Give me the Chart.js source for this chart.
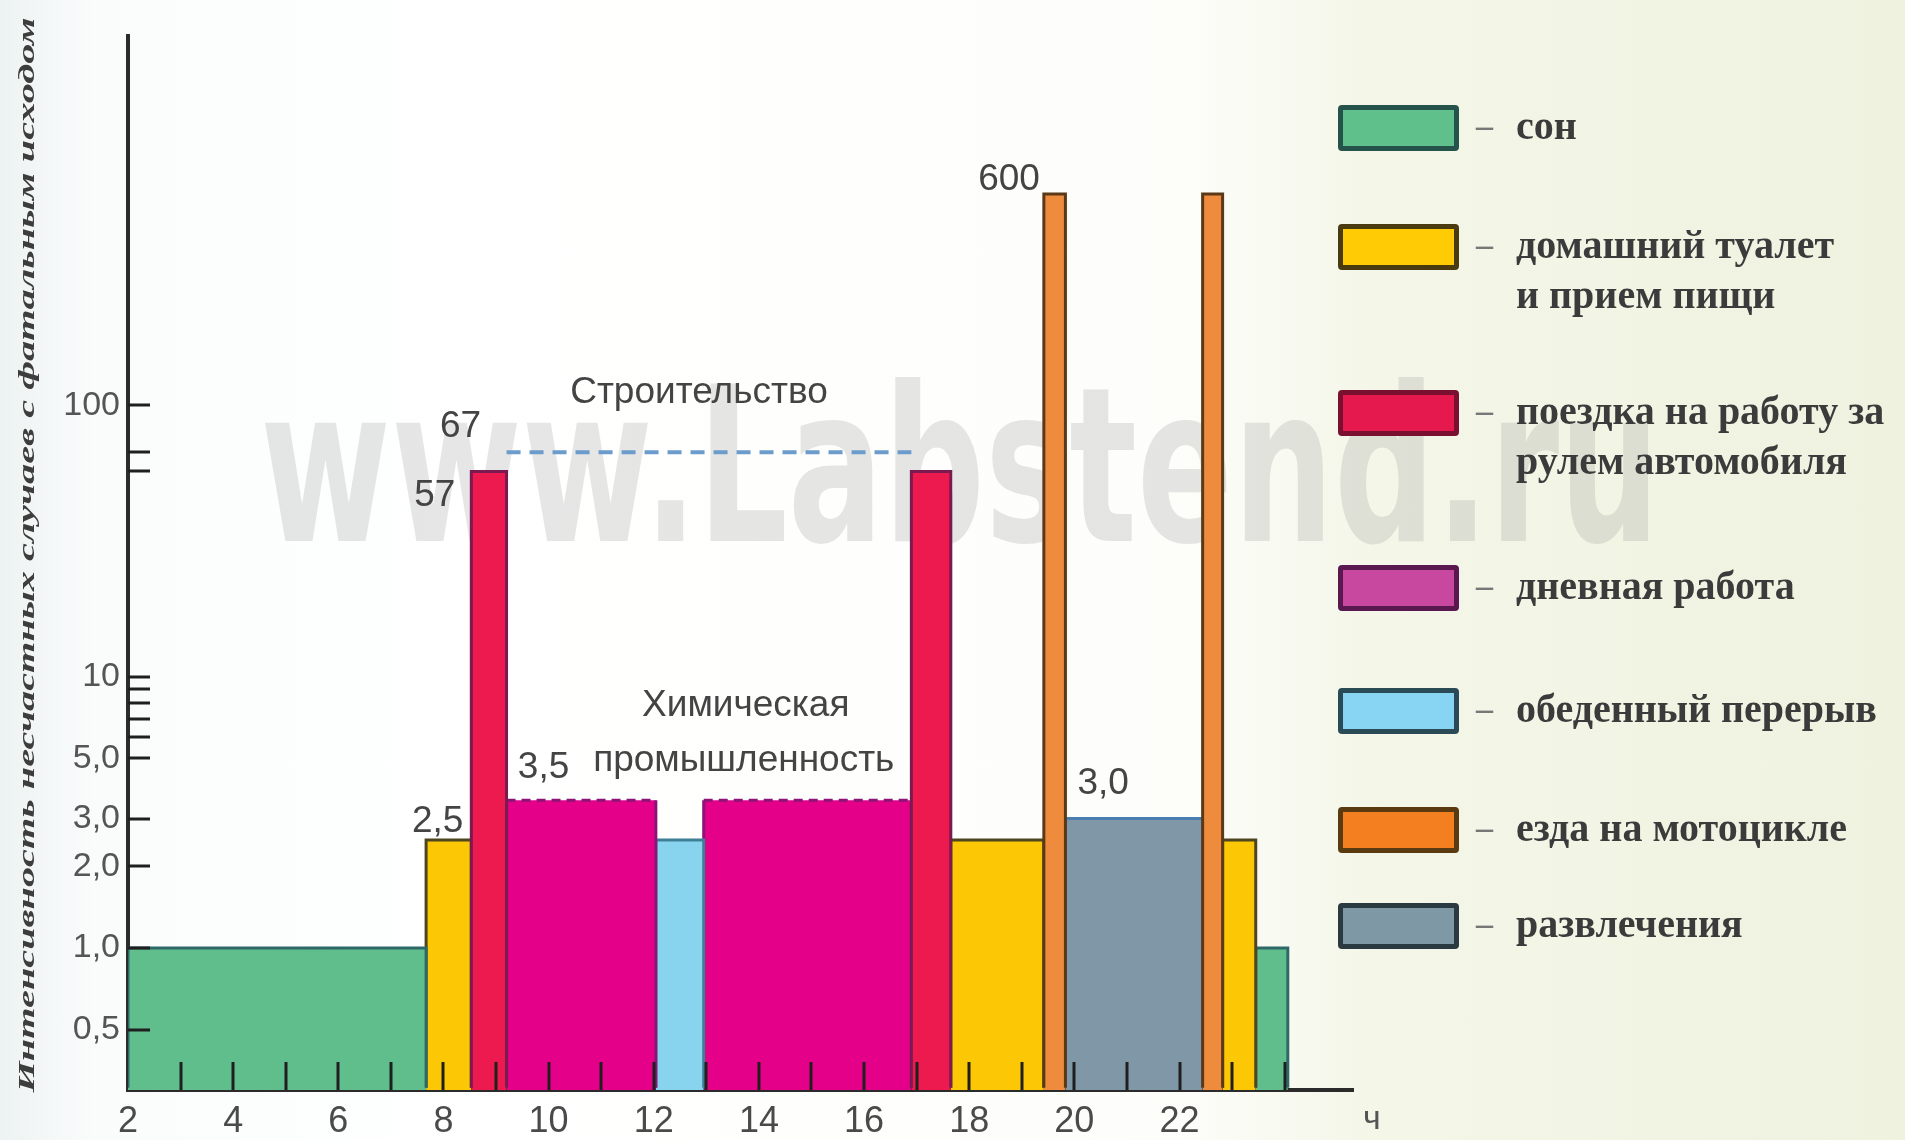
<!DOCTYPE html>
<html lang="ru">
<head>
<meta charset="utf-8">
<title>Интенсивность несчастных случаев с фатальным исходом</title>
<script src="https://cdn.jsdelivr.net/npm/chart.js@4.4.1/dist/chart.umd.min.js"></script>
<style>
  html, body { margin: 0; padding: 0; }
  body {
    width: 1905px; height: 1140px; overflow: hidden; position: relative;
    background: linear-gradient(90deg, #edf3f2 0%, #fafcfc 5%, #ffffff 25%, #fdfdfa 62%, #f4f6e8 72%, #eff2df 100%);
  }
  #chart { position: absolute; left: 0; top: 0; }
  .legend { position: absolute; left: 0; top: 0; font-family: "Liberation Serif", "DejaVu Serif", serif; font-weight: bold; color: #3b3b3b; }
  .box { position: absolute; left: 1338px; width: 111px; height: 36px; border: 5px solid; border-radius: 4px; }
  .dash { position: absolute; left: 1476px; font-size: 34px; line-height: 50px; color: #777; }
  .txt { position: absolute; left: 1516px; font-size: 40px; line-height: 50px; white-space: nowrap; }
</style>
</head>
<body>
<canvas id="chart" width="1905" height="1140"></canvas>
<div class="legend" id="legend"></div>
<script>
// hours of the day (x) and accident rate (y, log scale)
const hourLabels = [2, 4, 6, 8, 10, 12, 14, 16, 18, 20, 22]
const yTickValues = [0.5, 1, 2, 3, 5, 6, 7, 8, 9, 10, 57, 67, 100]
const yTickLabels = ["0,5", "1,0", "2,0", "3,0", "5,0", "", "", "", "", "10", "", "", "100"]

const activities = [
  "сон",
  "домашний туалет\nи прием пищи",
  "поездка на работу за\nрулем автомобиля",
  "дневная работа",
  "обеденный перерыв",
  "езда на мотоцикле",
  "развлечения"
]

// one block per period of the day
const segStart = [2.0, 7.67, 8.53, 9.2, 12.04, 12.95, 16.9, 17.65, 19.42, 19.83, 22.44, 22.82, 23.45]
const segEnd = [7.67, 8.53, 9.2, 12.04, 12.95, 16.9, 17.65, 19.42, 19.83, 22.44, 22.82, 23.45, 24.06]
const segValue = [1.0, 2.5, 57, 3.5, 2.5, 3.5, 57, 2.5, 600, 3.0, 600, 2.5, 1.0]
const segActivity = [0, 1, 2, 3, 4, 3, 2, 1, 5, 6, 5, 1, 0]

// construction industry level (dashed line)
const constructionFrom = 9.2
const constructionTo = 16.9
const constructionValue = 67

// styles
const fillColors = ["#5fbe8b", "#fcc705", "#ec1a4e", "#e5008a", "#88d4ef", "#ee8b3c", "#7f97a7"]
const borderColors = ["#2e6868", "#4d4420", "#7a1a50", "#8c1478", "#3f7f95", "#5a3818", "#4a7db0"]
const legendFill = ["#60c08c", "#ffcb05", "#e6194e", "#c8479f", "#87d5f2", "#f47f20", "#7f98a6"]
const legendBorder = ["#25524a", "#4a3a10", "#7a1030", "#5a1850", "#2a4a55", "#5a3a10", "#2a3a40"]
const legendY = [128, 247, 413, 588, 711, 830, 926]

const X_MIN = 2, X_MAX = 25.3
const Y_MIN = 0.306, Y_MAX = 2290
const sansFont = "'Liberation Sans', Arial, sans-serif"

// build legend
const legendEl = document.getElementById("legend")
activities.forEach((label, i) => {
  const cy = legendY[i]
  const box = document.createElement("div")
  box.className = "box"
  box.style.top = (cy - 23) + "px"
  box.style.background = legendFill[i]
  box.style.borderColor = legendBorder[i]
  legendEl.appendChild(box)
  const dash = document.createElement("div")
  dash.className = "dash"
  dash.style.top = (cy - 27) + "px"
  dash.textContent = "–"
  legendEl.appendChild(dash)
  const txt = document.createElement("div")
  txt.className = "txt"
  txt.style.top = (cy - 27) + "px"
  txt.innerHTML = label.split("\n").join("<br>")
  legendEl.appendChild(txt)
})

// datasets: each block is a closed outline filled down to the axis
const datasets = segValue.map((v, i) => {
  const a = segActivity[i]
  const dashedTop = a === 3
  return {
    data: [
      { x: segStart[i], y: Y_MIN },
      { x: segStart[i], y: v },
      { x: segEnd[i], y: v },
      { x: segEnd[i], y: Y_MIN }
    ],
    backgroundColor: fillColors[a],
    borderColor: borderColors[a],
    borderWidth: 3,
    fill: "start",
    order: v >= 50 ? 1 : 2,
    segment: {
      borderDash: ctx => (dashedTop && ctx.p0DataIndex === 1 ? [9, 6] : undefined)
    }
  }
})

datasets.push({
  data: [
    { x: constructionFrom, y: constructionValue },
    { x: constructionTo, y: constructionValue }
  ],
  borderColor: "#6c9ccb",
  borderWidth: 4,
  borderDash: [14, 9],
  fill: false,
  order: 0
})

// text notes placed at data coordinates, with pixel offsets
const notes = [
  { x: 19.42, y: 600, text: "600", dx: -4, dy: -14, align: "right" },
  { x: constructionFrom, y: constructionValue, text: "67", dx: -46, dy: -26, align: "center" },
  { x: 8.53, y: 57, text: "57", dx: -16, dy: 24, align: "right" },
  { x: 13.05, y: constructionValue, text: "Строительство", dx: -10, dy: -60, align: "center" },
  { x: 13.75, y: 3.5, text: "Химическая", dx: 0, dy: -95, align: "center" },
  { x: 13.75, y: 3.5, text: "промышленность", dx: -2, dy: -40, align: "center" },
  { x: 9.2, y: 3.5, text: "3,5", dx: 37, dy: -33, align: "center" },
  { x: 8.53, y: 2.5, text: "2,5", dx: -8, dy: -18, align: "right" },
  { x: 19.83, y: 3.0, text: "3,0", dx: 12, dy: -35, align: "left" }
]

const watermark = {
  id: "watermark",
  beforeDatasetsDraw(chart) {
    const c = chart.ctx
    c.save()
    c.font = "bold 215px 'DejaVu Sans', sans-serif"
    c.fillStyle = "rgba(160,160,160,0.26)"
    c.textAlign = "center"
    c.textBaseline = "alphabetic"
    c.fillText("www.Labstend.ru", 960, 541, 1400)
    c.restore()
  }
}

const innerTicks = {
  id: "innerTicks",
  afterDatasetsDraw(chart) {
    const c = chart.ctx
    const xs = chart.scales.x, ys = chart.scales.y
    const area = chart.chartArea
    c.save()
    c.strokeStyle = "#1f1f1f"
    c.lineWidth = 3
    ys.ticks.forEach(t => {
      const py = Math.round(ys.getPixelForValue(t.value))
      c.beginPath()
      c.moveTo(area.left, py)
      c.lineTo(area.left + 22, py)
      c.stroke()
    })
    for (let h = 3; h <= 24; h++) {
      const px = Math.round(xs.getPixelForValue(h))
      c.beginPath()
      c.moveTo(px, area.bottom)
      c.lineTo(px, area.bottom - 28)
      c.stroke()
    }
    c.restore()
  }
}

const labels = {
  id: "labels",
  afterDraw(chart) {
    const c = chart.ctx
    const xs = chart.scales.x, ys = chart.scales.y
    const area = chart.chartArea
    c.save()
    c.fillStyle = "#444"
    c.textBaseline = "middle"
    c.font = "37px " + sansFont
    notes.forEach(n => {
      c.textAlign = n.align
      c.fillText(n.text, xs.getPixelForValue(n.x) + n.dx, ys.getPixelForValue(n.y) + n.dy)
    })
    // unit of the x axis
    c.textAlign = "left"
    c.font = "34px " + sansFont
    c.fillStyle = "#555"
    c.fillText("ч", area.right + 10, area.bottom + 30)

    // rotated y-axis title stretched along the axis
    const title = "Интенсивность несчастных случаев с фатальным исходом"
    c.font = "italic bold 24px 'Liberation Serif', serif"
    c.fillStyle = "#3d3d3d"
    const w = c.measureText(title).width
    const len = 1075
    c.translate(28, 555)
    c.rotate(-Math.PI / 2)
    c.scale(len / w, 1)
    c.textAlign = "center"
    c.fillText(title, 0, 0)
    c.restore()
  }
}

const ctx = document.getElementById("chart").getContext("2d")
const chart = new Chart(ctx, {
  type: "line",
  data: { datasets: datasets },
  options: {
    responsive: false,
    animation: false,
    devicePixelRatio: 1,
    layout: { padding: { left: 0, top: 36, right: 552, bottom: 0 } },
    elements: { point: { radius: 0 }, line: { tension: 0 } },
    plugins: { legend: { display: false }, tooltip: { enabled: false } },
    scales: {
      x: {
        type: "linear",
        min: X_MIN,
        max: X_MAX,
        afterBuildTicks: s => { s.ticks = hourLabels.map(v => ({ value: v })) },
        afterFit: s => { s.height = 50 },
        grid: { display: false, drawTicks: false },
        border: { display: true, color: "#2b2b2b", width: 4 },
        ticks: {
          autoSkip: false,
          maxRotation: 0,
          padding: 10,
          color: "#4a4a4a",
          font: { family: sansFont, size: 36 },
          callback: v => String(v)
        }
      },
      y: {
        type: "logarithmic",
        min: Y_MIN,
        max: Y_MAX,
        afterBuildTicks: s => { s.ticks = yTickValues.map(v => ({ value: v })) },
        afterFit: s => { s.width = 128 },
        grid: { display: false, drawTicks: false },
        border: { display: true, color: "#2b2b2b", width: 4 },
        ticks: {
          autoSkip: false,
          padding: 8,
          color: "#555",
          font: { family: sansFont, size: 34 },
          callback: v => {
            const i = yTickValues.indexOf(v)
            return i >= 0 ? yTickLabels[i] : ""
          }
        }
      }
    }
  },
  plugins: [watermark, innerTicks, labels]
})
</script>
</body>
</html>
